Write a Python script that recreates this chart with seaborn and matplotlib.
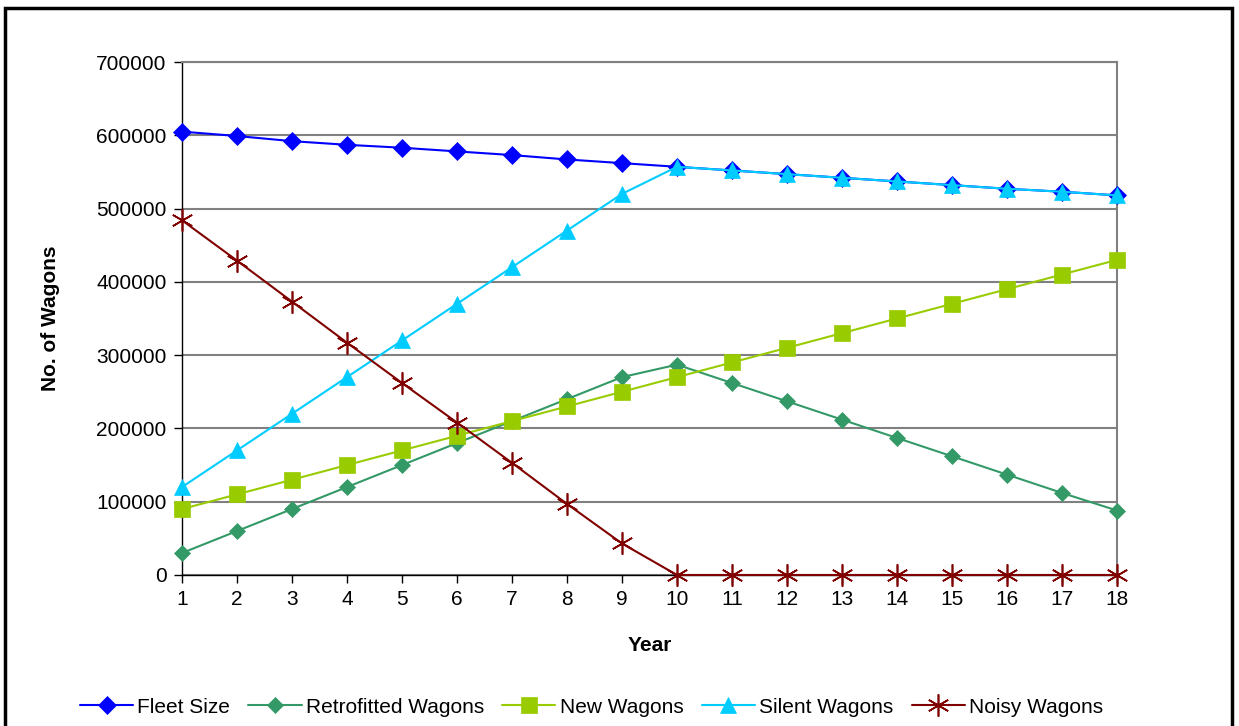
import numpy as np
import pandas as pd
import matplotlib
matplotlib.use("Agg")
import matplotlib.pyplot as plt
import seaborn as sns
from matplotlib.patches import Rectangle

# Data
years = list(range(1, 19))
fleet_size = [605000, 599000, 592000, 587000, 583000, 578000, 573000, 567000, 562000,
              557000, 552000, 547000, 542000, 537000, 532000, 527000, 523000, 518000]
retrofitted = [30000, 60000, 90000, 120000, 150000, 180000, 210000, 240000, 270000,
               287000, 262000, 237000, 212000, 187000, 162000, 137000, 112000, 88000]
new_wagons = [90000, 110000, 130000, 150000, 170000, 190000, 210000, 230000, 250000,
              270000, 290000, 310000, 330000, 350000, 370000, 390000, 410000, 430000]
silent = [120000, 170000, 220000, 270000, 320000, 370000, 420000, 470000, 520000,
          557000, 552000, 547000, 542000, 537000, 532000, 527000, 523000, 518000]
noisy = [484000, 429000, 373000, 317000, 262000, 208000, 153000, 97000, 43000,
         0, 0, 0, 0, 0, 0, 0, 0, 0]

series_names = ["Fleet Size", "Retrofitted Wagons", "New Wagons", "Silent Wagons", "Noisy Wagons"]
series_vals = [fleet_size, retrofitted, new_wagons, silent, noisy]
colors = ["#0000FF", "#339966", "#99CC00", "#00CCFF", "#800000"]
markers = ["D", "D", "s", "^", (6, 2, 0)]
msizes = [9, 8, 11, 11, 16]

sns.set_style("white")
plt.rcParams["font.family"] = ["Liberation Sans", "DejaVu Sans"]
plt.rcParams["text.color"] = "black"
plt.rcParams["axes.labelcolor"] = "black"
plt.rcParams["xtick.color"] = "black"
plt.rcParams["ytick.color"] = "black"

fig = plt.figure(figsize=(12.39, 7.26), dpi=100)
ax = fig.add_axes([0.1469, 0.208, 0.7546, 0.7066])

for name, vals, c, m, ms in zip(series_names, series_vals, colors, markers, msizes):
    df = pd.DataFrame({"Year": years, "Wagons": vals})
    sns.lineplot(data=df, x="Year", y="Wagons", ax=ax, color=c, marker=m,
                 markersize=ms, markeredgecolor=c, markeredgewidth=1.2 if m == (6, 2, 0) else 0.5,
                 linewidth=1.5, label=name, clip_on=False, zorder=3)

ax.set_xlim(1, 18)
ax.set_ylim(0, 700000)
ax.set_xticks(years)
ax.set_yticks(np.arange(0, 700001, 100000))
ax.set_yticklabels([str(v) for v in range(0, 700001, 100000)])
ax.yaxis.grid(True, color="#808080", linewidth=1.5)
ax.set_axisbelow(True)

for s in ["left", "bottom"]:
    ax.spines[s].set_color("black")
    ax.spines[s].set_linewidth(1.0)
for s in ["top", "right"]:
    ax.spines[s].set_color("#808080")
    ax.spines[s].set_linewidth(1.5)

ax.tick_params(axis="both", direction="out", length=6, width=1, color="black",
               labelcolor="black", labelsize=15, pad=5, left=True, bottom=True)
ax.set_xlabel("Year", fontsize=15, fontweight="bold", labelpad=19)
ax.set_ylabel("No. of Wagons", fontsize=15, fontweight="bold", labelpad=26)

leg = ax.legend(loc="center", bbox_to_anchor=(0.4774, 0.026), bbox_transform=fig.transFigure,
                ncol=5, frameon=False, fontsize=15, handlelength=2.55,
                handletextpad=0.2, columnspacing=0.88)

# outer chart border
fig.patches.append(Rectangle((5 / 1239, -0.05), 1227 / 1239, 1 - 8 / 726 + 0.05,
                             transform=fig.transFigure, fill=False,
                             edgecolor="black", linewidth=2.5))

fig.savefig("out.png", dpi=100)
